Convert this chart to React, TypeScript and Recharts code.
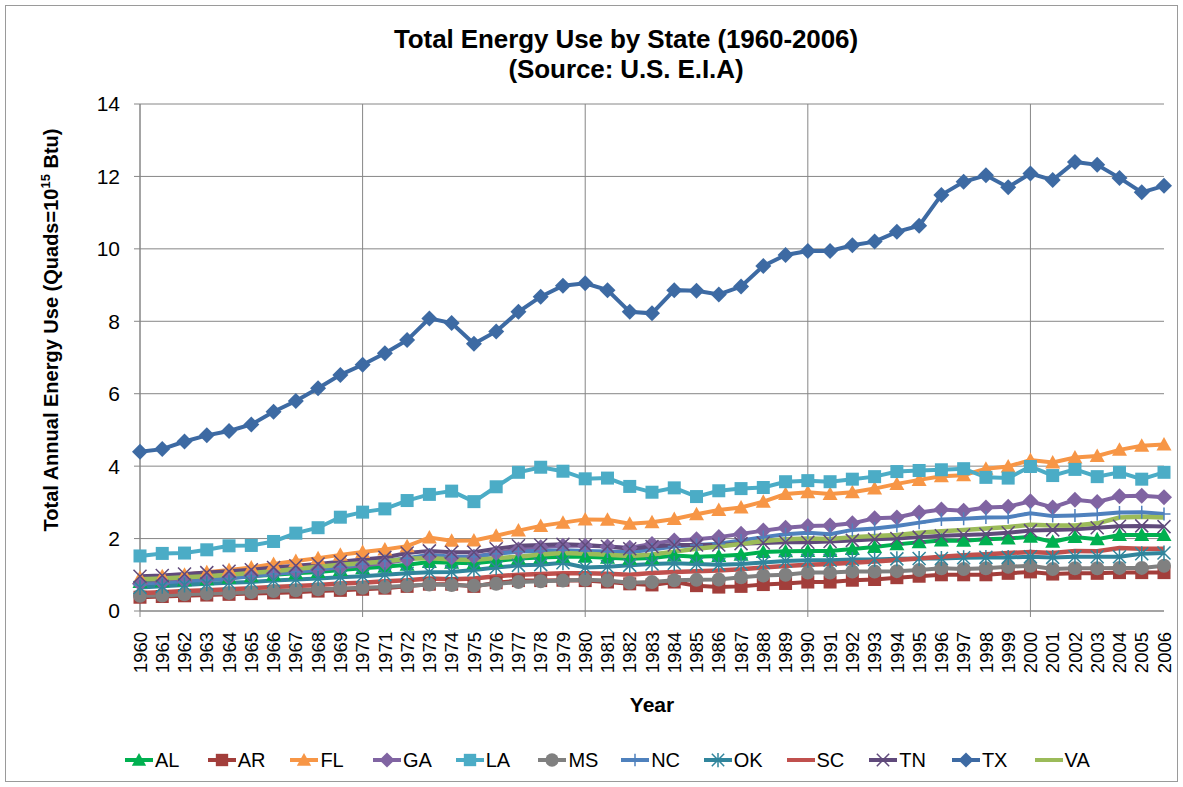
import React from 'react';
import { LineChart, Line, XAxis, YAxis, CartesianGrid, ReferenceLine, Legend } from 'recharts';

const years = [
  1960, 1961, 1962, 1963, 1964, 1965, 1966, 1967, 1968, 1969,
  1970, 1971, 1972, 1973, 1974, 1975, 1976, 1977, 1978, 1979,
  1980, 1981, 1982, 1983, 1984, 1985, 1986, 1987, 1988, 1989,
  1990, 1991, 1992, 1993, 1994, 1995, 1996, 1997, 1998, 1999,
  2000, 2001, 2002, 2003, 2004, 2005, 2006,
];
const decadeLines = [1960, 1970, 1980, 1990, 2000];
const yTicks = [0, 2, 4, 6, 8, 10, 12, 14];

const AL = [
  0.80, 0.82, 0.85, 0.88, 0.92, 0.96, 1.00, 1.04, 1.08, 1.13,
  1.18, 1.22, 1.28, 1.35, 1.33, 1.32, 1.38, 1.45, 1.48, 1.50,
  1.50, 1.47, 1.44, 1.46, 1.53, 1.50, 1.52, 1.55, 1.63, 1.65,
  1.66, 1.66, 1.71, 1.77, 1.84, 1.90, 1.95, 1.94, 1.98, 2.00,
  2.05, 1.91, 2.04, 1.98, 2.10, 2.10, 2.10,
];
const AR = [
  0.38, 0.40, 0.42, 0.44, 0.46, 0.48, 0.50, 0.52, 0.55, 0.57,
  0.60, 0.63, 0.68, 0.74, 0.74, 0.68, 0.78, 0.84, 0.84, 0.85,
  0.84, 0.80, 0.75, 0.72, 0.80, 0.70, 0.66, 0.68, 0.73, 0.76,
  0.80, 0.80, 0.85, 0.87, 0.92, 0.96, 1.00, 1.00, 1.00, 1.04,
  1.08, 1.02, 1.04, 1.04, 1.06, 1.06, 1.06,
];
const FL = [
  0.92, 0.96, 1.00, 1.07, 1.13, 1.20, 1.30, 1.38, 1.46, 1.55,
  1.63, 1.70, 1.79, 2.03, 1.94, 1.95, 2.08, 2.22, 2.35, 2.44,
  2.53, 2.52, 2.41, 2.45, 2.54, 2.67, 2.79, 2.86, 3.02, 3.23,
  3.28, 3.23, 3.28, 3.38, 3.51, 3.62, 3.72, 3.75, 3.93, 3.99,
  4.17, 4.10, 4.24, 4.28, 4.45, 4.56, 4.60,
];
const GA = [
  0.75, 0.78, 0.82, 0.87, 0.92, 0.97, 1.03, 1.08, 1.14, 1.20,
  1.26, 1.32, 1.42, 1.52, 1.48, 1.50, 1.60, 1.70, 1.76, 1.80,
  1.80, 1.78, 1.75, 1.85, 1.95, 1.98, 2.04, 2.13, 2.22, 2.30,
  2.35, 2.36, 2.42, 2.56, 2.58, 2.72, 2.80, 2.77, 2.86, 2.88,
  3.03, 2.86, 3.07, 3.01, 3.17, 3.18, 3.14,
];
const LA = [
  1.52, 1.59, 1.60, 1.69, 1.80, 1.81, 1.92, 2.15, 2.30, 2.59,
  2.73, 2.82, 3.05, 3.22, 3.31, 3.02, 3.43, 3.83, 3.97, 3.86,
  3.65, 3.67, 3.44, 3.28, 3.40, 3.16, 3.32, 3.38, 3.41, 3.57,
  3.60, 3.57, 3.64, 3.71, 3.85, 3.88, 3.90, 3.93, 3.69, 3.67,
  3.99, 3.74, 3.91, 3.71, 3.83, 3.64, 3.83,
];
const MS = [
  0.42, 0.43, 0.46, 0.48, 0.50, 0.52, 0.55, 0.57, 0.60, 0.62,
  0.64, 0.66, 0.70, 0.73, 0.72, 0.70, 0.75, 0.80, 0.82, 0.84,
  0.86, 0.84, 0.78, 0.80, 0.85, 0.86, 0.87, 0.93, 0.98, 1.00,
  1.06, 1.06, 1.09, 1.09, 1.10, 1.13, 1.18, 1.16, 1.18, 1.22,
  1.25, 1.16, 1.18, 1.18, 1.19, 1.19, 1.25,
];
const NC = [
  0.72, 0.75, 0.80, 0.85, 0.90, 0.96, 1.02, 1.08, 1.15, 1.22,
  1.30, 1.38, 1.46, 1.55, 1.50, 1.50, 1.58, 1.64, 1.66, 1.68,
  1.66, 1.64, 1.62, 1.70, 1.78, 1.82, 1.86, 1.95, 2.04, 2.12,
  2.16, 2.12, 2.24, 2.28, 2.35, 2.44, 2.53, 2.55, 2.58, 2.59,
  2.70, 2.62, 2.64, 2.67, 2.72, 2.73, 2.68,
];
const OK = [
  0.65, 0.68, 0.72, 0.75, 0.78, 0.80, 0.84, 0.87, 0.90, 0.93,
  0.96, 1.00, 1.04, 1.07, 1.08, 1.13, 1.20, 1.26, 1.28, 1.33,
  1.20, 1.22, 1.26, 1.30, 1.32, 1.30, 1.28, 1.30, 1.34, 1.38,
  1.40, 1.40, 1.42, 1.42, 1.44, 1.45, 1.45, 1.47, 1.48, 1.48,
  1.50, 1.48, 1.50, 1.50, 1.50, 1.58, 1.60,
];
const SC = [
  0.50, 0.52, 0.55, 0.57, 0.60, 0.63, 0.66, 0.69, 0.72, 0.76,
  0.78, 0.82, 0.85, 0.90, 0.88, 0.90, 0.96, 1.00, 1.02, 1.04,
  1.04, 1.03, 1.00, 1.05, 1.08, 1.10, 1.12, 1.15, 1.20, 1.24,
  1.28, 1.30, 1.33, 1.37, 1.41, 1.45, 1.50, 1.54, 1.57, 1.60,
  1.63, 1.60, 1.66, 1.65, 1.74, 1.72, 1.72,
];
const TN = [
  0.96, 0.98, 1.02, 1.06, 1.10, 1.14, 1.20, 1.25, 1.30, 1.36,
  1.42, 1.48, 1.60, 1.66, 1.62, 1.62, 1.72, 1.80, 1.82, 1.84,
  1.82, 1.78, 1.72, 1.78, 1.82, 1.82, 1.82, 1.86, 1.88, 1.90,
  1.90, 1.92, 1.95, 1.98, 2.00, 2.04, 2.08, 2.10, 2.12, 2.16,
  2.22, 2.24, 2.26, 2.30, 2.34, 2.35, 2.33,
];
const TX = [
  4.40, 4.47, 4.68, 4.85, 4.97, 5.15, 5.50, 5.80, 6.15, 6.52,
  6.80, 7.12, 7.48, 8.08, 7.95, 7.38, 7.72, 8.26, 8.68, 8.98,
  9.05, 8.86, 8.26, 8.22, 8.86, 8.84, 8.74, 8.96, 9.53, 9.83,
  9.94, 9.94, 10.10, 10.20, 10.47, 10.64, 11.49, 11.85, 12.03, 11.70,
  12.08, 11.90, 12.40, 12.32, 11.96, 11.56, 11.74,
];
const VA = [
  0.88, 0.90, 0.93, 0.96, 1.00, 1.05, 1.10, 1.16, 1.22, 1.28,
  1.32, 1.37, 1.44, 1.46, 1.42, 1.41, 1.46, 1.50, 1.56, 1.60,
  1.58, 1.55, 1.52, 1.56, 1.64, 1.72, 1.78, 1.85, 1.93, 1.98,
  2.00, 1.99, 2.04, 2.07, 2.10, 2.16, 2.20, 2.24, 2.28, 2.32,
  2.38, 2.36, 2.36, 2.42, 2.58, 2.60, 2.58,
];

const seriesValues: Record<string, number[]> = { AL, AR, FL, GA, LA, MS, NC, OK, SC, TN, TX, VA };

const seriesStyle: { key: string; color: string; marker: string }[] = [
  { key: 'AL', color: '#00B050', marker: 'triangle' },
  { key: 'AR', color: '#A23E3B', marker: 'square' },
  { key: 'FL', color: '#F79646', marker: 'triangle' },
  { key: 'GA', color: '#8064A2', marker: 'diamond' },
  { key: 'LA', color: '#4BACC6', marker: 'square' },
  { key: 'MS', color: '#808080', marker: 'circle' },
  { key: 'NC', color: '#4F81BD', marker: 'plus' },
  { key: 'OK', color: '#31859C', marker: 'asterisk' },
  { key: 'SC', color: '#C0504D', marker: 'none' },
  { key: 'TN', color: '#604A7B', marker: 'x' },
  { key: 'TX', color: '#3D6AA3', marker: 'diamond' },
  { key: 'VA', color: '#9BBB59', marker: 'none' },
];

const data = years.map((year, i) => {
  const row: Record<string, number> = { year };
  Object.keys(seriesValues).forEach((k) => {
    row[k] = seriesValues[k][i];
  });
  return row;
});

const FONT = '"Liberation Sans", Arial, sans-serif';
const GRID = '#868686';

function markerShape(shape: string, color: string, cx: number, cy: number, key?: any, scale = 1) {
  const s = scale;
  switch (shape) {
    case 'triangle':
      return (
        <polygon key={key} points={`${cx},${cy - 7.5 * s} ${cx + 7.5 * s},${cy + 6 * s} ${cx - 7.5 * s},${cy + 6 * s}`} fill={color} />
      );
    case 'square':
      return <rect key={key} x={cx - 6.5 * s} y={cy - 6.5 * s} width={13 * s} height={13 * s} fill={color} />;
    case 'diamond':
      return (
        <polygon key={key} points={`${cx},${cy - 8 * s} ${cx + 8 * s},${cy} ${cx},${cy + 8 * s} ${cx - 8 * s},${cy}`} fill={color} />
      );
    case 'circle':
      return <circle key={key} cx={cx} cy={cy} r={7 * s} fill={color} />;
    case 'plus':
      return (
        <path key={key} d={`M${cx - 6.5 * s},${cy}H${cx + 6.5 * s}M${cx},${cy - 6.5 * s}V${cy + 6.5 * s}`} stroke={color} strokeWidth={1.5} fill="none" />
      );
    case 'x':
      return (
        <path key={key} d={`M${cx - 6.5 * s},${cy - 6.5 * s}L${cx + 6.5 * s},${cy + 6.5 * s}M${cx - 6.5 * s},${cy + 6.5 * s}L${cx + 6.5 * s},${cy - 6.5 * s}`} stroke={color} strokeWidth={1.5} fill="none" />
      );
    case 'asterisk':
      return (
        <path key={key} d={`M${cx - 6.5 * s},${cy - 6.5 * s}L${cx + 6.5 * s},${cy + 6.5 * s}M${cx - 6.5 * s},${cy + 6.5 * s}L${cx + 6.5 * s},${cy - 6.5 * s}M${cx},${cy - 7.5 * s}V${cy + 7.5 * s}`} stroke={color} strokeWidth={1.5} fill="none" />
      );
    default:
      return <g key={key} />;
  }
}

const makeDot = (shape: string, color: string) => (props: any) => {
  const { cx, cy, index } = props;
  if (cx == null || cy == null) return <g key={`d-${index}`} />;
  return markerShape(shape, color, cx, cy, `d-${index}`);
};

const XTick = (props: any) => {
  const { x, y, payload } = props;
  const v = payload.value as number;
  const ty = y + 21;
  return (
    <g>
      {v % 10 === 0 && <line x1={x} y1={y} x2={x} y2={y + 6} stroke={GRID} strokeWidth={1} />}
      <text
        x={x}
        y={ty}
        transform={`rotate(-90, ${x}, ${ty})`}
        textAnchor="end"
        dy="0.36em"
        fontSize={18.5}
        fontFamily={FONT}
        fill="#000"
      >
        {v}
      </text>
    </g>
  );
};

const YLabel = () => (
  <text
    transform="translate(58, 330) rotate(-90)"
    textAnchor="middle"
    fontSize={20}
    fontWeight="bold"
    fontFamily={FONT}
    fill="#000"
  >
    Total Annual Energy Use (Quads=10
    <tspan dy={-8} fontSize={13}>15</tspan>
    <tspan dy={8}> Btu)</tspan>
  </text>
);

const XLabel = () => (
  <text x={652} y={712} textAnchor="middle" fontSize={21} fontWeight="bold" fontFamily={FONT} fill="#000">
    Year
  </text>
);

const renderLegend = (props: any) => {
  const payload = props.payload || [];
  return (
    <div style={{ display: 'flex', fontFamily: FONT, fontSize: 20, color: '#000' }}>
      {payload.map((entry: any) => {
        const st = seriesStyle.find((s) => s.key === entry.value);
        const color = st ? st.color : entry.color;
        return (
          <div key={entry.value} style={{ width: 82.7, display: 'flex', alignItems: 'center', height: 26 }}>
            <svg width={30} height={20} style={{ display: 'block' }}>
              <line x1={1} y1={10} x2={29} y2={10} stroke={color} strokeWidth={4} />
              {st && markerShape(st.marker, color, 15, 10, undefined, 0.95)}
            </svg>
            <span style={{ marginLeft: 1, lineHeight: '26px' }}>{entry.value}</span>
          </div>
        );
      })}
    </div>
  );
};

export default function App() {
  return (
    <div style={{ position: 'absolute', left: 0, top: 0, width: 1183, height: 787, background: '#fff', fontFamily: FONT }}>
      <div
        style={{
          position: 'absolute',
          left: 5,
          top: 5,
          width: 1173,
          height: 777,
          border: '1px solid #9a9a9a',
          boxSizing: 'border-box',
        }}
      />
      <div
        style={{
          position: 'absolute',
          left: 226,
          top: 24,
          width: 800,
          textAlign: 'center',
          fontSize: 26,
          fontWeight: 'bold',
          lineHeight: '30px',
          color: '#000',
          letterSpacing: -0.1,
        }}
      >
        <div>Total Energy Use by State (1960-2006)</div>
        <div>(Source: U.S. E.I.A)</div>
      </div>
      <div style={{ position: 'absolute', left: 0, top: 0 }}>
        <LineChart width={1183} height={787} data={data} margin={{ top: 104, right: 19, bottom: 116, left: 80 }}>
          <CartesianGrid vertical={false} stroke={GRID} strokeWidth={1} />
          {decadeLines.map((d) => (
            <ReferenceLine key={d} x={d} stroke={GRID} strokeWidth={1} />
          ))}
          <XAxis
            dataKey="year"
            type="number"
            domain={[1960, 2006]}
            ticks={years}
            interval={0}
            tick={<XTick />}
            tickLine={false}
            tickSize={0}
            tickMargin={0}
            axisLine={{ stroke: GRID, strokeWidth: 1 }}
            height={60}
            label={XLabel}
          />
          <YAxis
            domain={[0, 14]}
            ticks={yTicks}
            interval={0}
            width={60}
            tickSize={6}
            tickMargin={14}
            tickLine={{ stroke: GRID }}
            axisLine={{ stroke: GRID }}
            tick={{ fontSize: 21, fill: '#000', fontFamily: FONT }}
            label={YLabel}
          />
          {seriesStyle.map((s) => (
            <Line
              key={s.key}
              dataKey={s.key}
              name={s.key}
              type="linear"
              stroke={s.color}
              strokeWidth={s.marker === 'none' ? 4.5 : 4}
              dot={s.marker === 'none' ? false : makeDot(s.marker, s.color)}
              activeDot={false}
              isAnimationActive={false}
            />
          ))}
          <Legend
            layout="horizontal"
            verticalAlign="middle"
            align="center"
            content={renderLegend}
            wrapperStyle={{ position: 'absolute', left: 124, top: 747, width: 1010, height: 26 }}
          />
        </LineChart>
      </div>
    </div>
  );
}
